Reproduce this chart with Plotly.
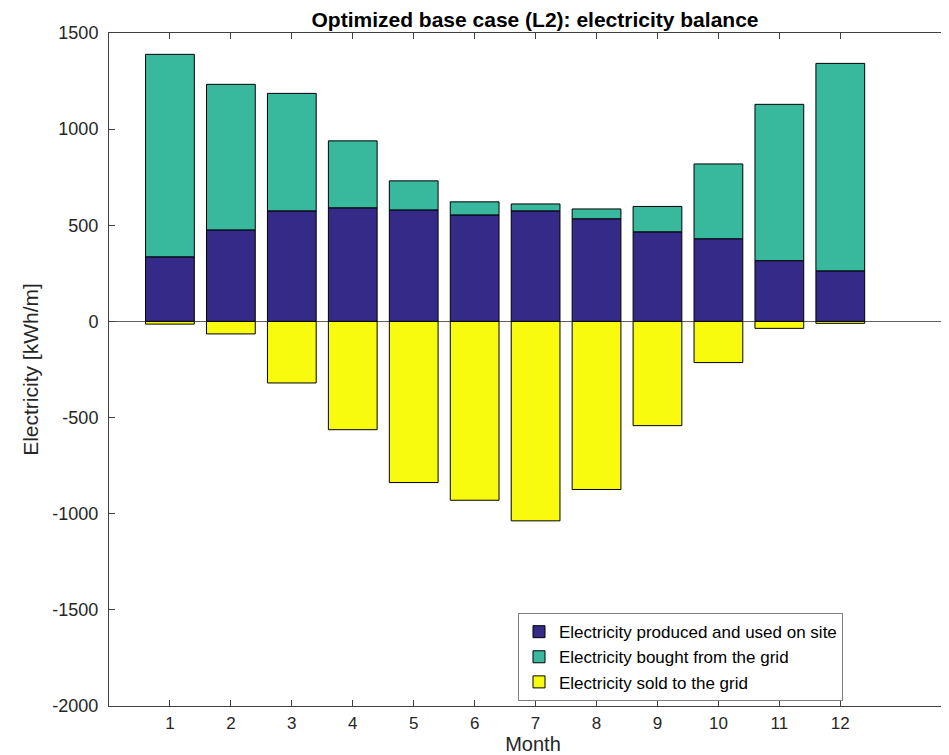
import plotly.graph_objects as go

months = list(range(1, 13))
total_consumed = [1389, 1233, 1186, 939, 731, 622, 611, 585, 598, 819, 1129, 1342]
produced_used = [336, 476, 575, 591, 580, 554, 575, 534, 466, 430, 316, 263]
bought = [t - p for t, p in zip(total_consumed, produced_used)]
sold = [-14, -65, -320, -563, -838, -930, -1037, -874, -542, -214, -36, -10]

y_tickvals = [1500, 1000, 500, 0, -500, -1000, -1500, -2000]
y_ticktext = ["1500", "1000", "500", "0", "-500", "-1000", "-1500", "-2000"]
x_tickvals = months
x_ticktext = [str(m) for m in months]

FONT = "Liberation Sans, Arial, Helvetica, sans-serif"
line = dict(color="black", width=1)

fig = go.Figure()
fig.add_trace(go.Bar(x=months, y=produced_used, name="Electricity produced and used on site",
                     marker=dict(color="#352a87", line=line), width=0.8))
fig.add_trace(go.Bar(x=months, y=bought, name="Electricity bought from the grid",
                     marker=dict(color="#38b99e", line=line), width=0.8))
fig.add_trace(go.Bar(x=months, y=sold, name="Electricity sold to the grid",
                     marker=dict(color="#f9fb0e", line=line), width=0.8))

# the page body has an 8px margin, so the figure is placed at (8, 8)
fig.update_layout(
    width=949, height=747,
    barmode="relative",
    paper_bgcolor="white", plot_bgcolor="white",
    margin=dict(l=101, r=0, t=25, b=49),
    font=dict(family=FONT, size=18, color="#262626"),
    title=dict(text="<b>Optimized base case (L2): electricity balance</b>",
               x=527 / 949, xanchor="center",
               y=1 - 12 / 747, yanchor="middle",
               font=dict(family=FONT, size=21, color="black")),
    showlegend=True,
    legend=dict(x=(510 - 101) / 848, y=0.138, xanchor="left", yanchor="top",
                bgcolor="white", bordercolor="#808080", borderwidth=1,
                font=dict(family=FONT, size=17, color="black"),
                tracegroupgap=0, traceorder="normal"),
)
fig.update_xaxes(range=[0, 13.915], tickvals=x_tickvals, ticktext=x_ticktext,
                 ticks="inside", ticklen=6, tickcolor="#404040",
                 showline=True, linecolor="#404040", linewidth=1, mirror="ticks",
                 showgrid=False, zeroline=False, ticklabelstandoff=2, automargin=False,
                 title=dict(text="Month", font=dict(size=20), standoff=9),
                 tickfont=dict(size=17))
fig.update_yaxes(range=[-2000, 1500], tickvals=y_tickvals, ticktext=y_ticktext,
                 ticks="inside", ticklen=6, tickcolor="#404040",
                 showline=True, linecolor="#404040", linewidth=1, mirror=False,
                 showgrid=False, zeroline=True, zerolinecolor="#606060", zerolinewidth=1,
                 ticklabelstandoff=6, automargin=False,
                 title=dict(text="Electricity [kWh/m]", font=dict(size=21), standoff=8),
                 tickfont=dict(size=18))

fig.write_html("out.html")
